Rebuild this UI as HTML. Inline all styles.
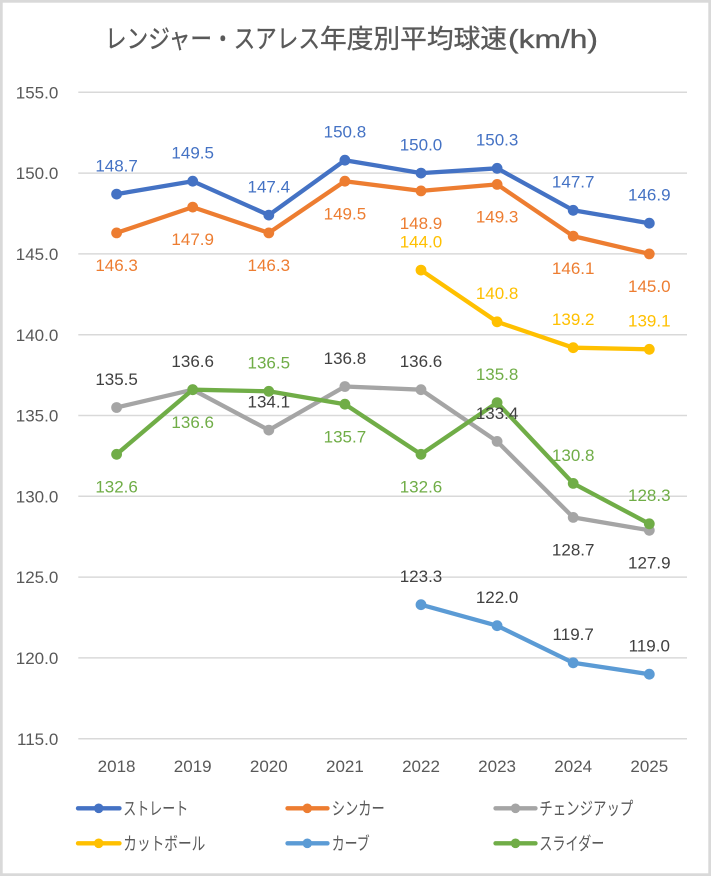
<!DOCTYPE html>
<html><head><meta charset="utf-8"><style>
html,body{margin:0;padding:0;background:#fff;}
svg{display:block;}
text{font-family:"Liberation Sans","Noto Sans CJK JP",sans-serif;}
</style></head><body>
<svg width="711" height="876" viewBox="0 0 711 876" xmlns="http://www.w3.org/2000/svg">
<rect x="0" y="0" width="711" height="876" fill="#fff"/>
<rect x="1.35" y="1.35" width="708.3" height="873.3" fill="none" stroke="#d9d9d9" stroke-width="2.7"/>

<!-- Title -->
<g fill="#595959" stroke="#595959" stroke-width="0.35" font-size="26">
<text x="105" y="48" textLength="215" lengthAdjust="spacingAndGlyphs">レンジャー・スアレス</text>
<text x="320" y="48" textLength="187" lengthAdjust="spacingAndGlyphs">年度別平均球速</text>
<text x="508" y="48" textLength="90" lengthAdjust="spacingAndGlyphs">(km/h)</text>
</g>

<!-- Gridlines -->
<g stroke="#d9d9d9" stroke-width="1.5">
<line x1="78.3" x2="687" y1="92.3" y2="92.3"/>
<line x1="78.3" x2="687" y1="173.1" y2="173.1"/>
<line x1="78.3" x2="687" y1="253.9" y2="253.9"/>
<line x1="78.3" x2="687" y1="334.7" y2="334.7"/>
<line x1="78.3" x2="687" y1="415.5" y2="415.5"/>
<line x1="78.3" x2="687" y1="496.3" y2="496.3"/>
<line x1="78.3" x2="687" y1="577.1" y2="577.1"/>
<line x1="78.3" x2="687" y1="657.9" y2="657.9"/>
<line x1="78.3" x2="687" y1="738.7" y2="738.7"/>
</g>

<!-- Y axis labels -->
<g fill="#595959" font-size="17" text-anchor="end">
<text x="58.3" y="98.4">155.0</text>
<text x="58.3" y="179.2">150.0</text>
<text x="58.3" y="260.0">145.0</text>
<text x="58.3" y="340.8">140.0</text>
<text x="58.3" y="421.6">135.0</text>
<text x="58.3" y="502.4">130.0</text>
<text x="58.3" y="583.2">125.0</text>
<text x="58.3" y="664.0">120.0</text>
<text x="58.3" y="744.8">115.0</text>
</g>

<!-- X axis labels -->
<g fill="#595959" font-size="17" text-anchor="middle">
<text x="116.6" y="772.1">2018</text>
<text x="192.7" y="772.1">2019</text>
<text x="268.8" y="772.1">2020</text>
<text x="344.9" y="772.1">2021</text>
<text x="421.0" y="772.1">2022</text>
<text x="497.1" y="772.1">2023</text>
<text x="573.2" y="772.1">2024</text>
<text x="649.3" y="772.1">2025</text>
</g>

<!-- Series: ストレート -->
<g stroke="#4472C4" fill="#4472C4">
<polyline fill="none" stroke-width="4.3" stroke-linejoin="round" points="116.6,194.1 192.7,181.2 268.8,215.1 344.9,160.2 421.0,173.1 497.1,168.3 573.2,210.3 649.3,223.2"/>
<g stroke="none">
<circle cx="116.6" cy="194.1" r="5.4"/><circle cx="192.7" cy="181.2" r="5.4"/><circle cx="268.8" cy="215.1" r="5.4"/><circle cx="344.9" cy="160.2" r="5.4"/><circle cx="421.0" cy="173.1" r="5.4"/><circle cx="497.1" cy="168.3" r="5.4"/><circle cx="573.2" cy="210.3" r="5.4"/><circle cx="649.3" cy="223.2" r="5.4"/>
</g></g>

<!-- Series: シンカー -->
<g stroke="#ED7D31" fill="#ED7D31">
<polyline fill="none" stroke-width="4.3" stroke-linejoin="round" points="116.6,232.9 192.7,207.1 268.8,232.9 344.9,181.2 421.0,190.9 497.1,184.4 573.2,236.1 649.3,253.9"/>
<g stroke="none">
<circle cx="116.6" cy="232.9" r="5.4"/><circle cx="192.7" cy="207.1" r="5.4"/><circle cx="268.8" cy="232.9" r="5.4"/><circle cx="344.9" cy="181.2" r="5.4"/><circle cx="421.0" cy="190.9" r="5.4"/><circle cx="497.1" cy="184.4" r="5.4"/><circle cx="573.2" cy="236.1" r="5.4"/><circle cx="649.3" cy="253.9" r="5.4"/>
</g></g>

<!-- Series: チェンジアップ -->
<g stroke="#A5A5A5" fill="#A5A5A5">
<polyline fill="none" stroke-width="4.3" stroke-linejoin="round" points="116.6,407.5 192.7,389.7 268.8,430.1 344.9,386.5 421.0,389.7 497.1,441.4 573.2,517.4 649.3,530.3"/>
<g stroke="none">
<circle cx="116.6" cy="407.5" r="5.4"/><circle cx="192.7" cy="389.7" r="5.4"/><circle cx="268.8" cy="430.1" r="5.4"/><circle cx="344.9" cy="386.5" r="5.4"/><circle cx="421.0" cy="389.7" r="5.4"/><circle cx="497.1" cy="441.4" r="5.4"/><circle cx="573.2" cy="517.4" r="5.4"/><circle cx="649.3" cy="530.3" r="5.4"/>
</g></g>

<!-- Series: カットボール -->
<g stroke="#FFC000" fill="#FFC000">
<polyline fill="none" stroke-width="4.3" stroke-linejoin="round" points="421.0,270.1 497.1,321.8 573.2,347.7 649.3,349.3"/>
<g stroke="none">
<circle cx="421.0" cy="270.1" r="5.4"/><circle cx="497.1" cy="321.8" r="5.4"/><circle cx="573.2" cy="347.7" r="5.4"/><circle cx="649.3" cy="349.3" r="5.4"/>
</g></g>

<!-- Series: カーブ -->
<g stroke="#5B9BD5" fill="#5B9BD5">
<polyline fill="none" stroke-width="4.3" stroke-linejoin="round" points="421.0,604.7 497.1,625.7 573.2,662.8 649.3,674.2"/>
<g stroke="none">
<circle cx="421.0" cy="604.7" r="5.4"/><circle cx="497.1" cy="625.7" r="5.4"/><circle cx="573.2" cy="662.8" r="5.4"/><circle cx="649.3" cy="674.2" r="5.4"/>
</g></g>

<!-- Series: スライダー -->
<g stroke="#70AD47" fill="#70AD47">
<polyline fill="none" stroke-width="4.3" stroke-linejoin="round" points="116.6,454.3 192.7,389.7 268.8,391.3 344.9,404.2 421.0,454.3 497.1,402.6 573.2,483.4 649.3,523.8"/>
<g stroke="none">
<circle cx="116.6" cy="454.3" r="5.4"/><circle cx="192.7" cy="389.7" r="5.4"/><circle cx="268.8" cy="391.3" r="5.4"/><circle cx="344.9" cy="404.2" r="5.4"/><circle cx="421.0" cy="454.3" r="5.4"/><circle cx="497.1" cy="402.6" r="5.4"/><circle cx="573.2" cy="483.4" r="5.4"/><circle cx="649.3" cy="523.8" r="5.4"/>
</g></g>

<!-- Data labels -->
<g font-size="17" text-anchor="middle">
<g fill="#4472C4">
<text x="116.6" y="171.5">148.7</text><text x="192.7" y="158.6">149.5</text><text x="268.8" y="192.5">147.4</text><text x="344.9" y="137.6">150.8</text><text x="421.0" y="150.5">150.0</text><text x="497.1" y="145.7">150.3</text><text x="573.2" y="187.7">147.7</text><text x="649.3" y="200.6">146.9</text>
</g>
<g fill="#ED7D31">
<text x="116.6" y="271.0">146.3</text><text x="192.7" y="245.2">147.9</text><text x="268.8" y="271.0">146.3</text><text x="344.9" y="219.3">149.5</text><text x="421.0" y="229.0">148.9</text><text x="497.1" y="222.5">149.3</text><text x="573.2" y="274.2">146.1</text><text x="649.3" y="292.0">145.0</text>
</g>
<g fill="#404040">
<text x="116.6" y="384.9">135.5</text><text x="192.7" y="367.1">136.6</text><text x="268.8" y="407.5">134.1</text><text x="344.9" y="363.9">136.8</text><text x="421.0" y="367.1">136.6</text><text x="497.1" y="418.8">133.4</text><text x="573.2" y="555.5">128.7</text><text x="649.3" y="568.4">127.9</text>
</g>
<g fill="#FFC000">
<text x="421.0" y="247.5">144.0</text><text x="497.1" y="299.2">140.8</text><text x="573.2" y="325.1">139.2</text><text x="649.3" y="326.7">139.1</text>
</g>
<g fill="#404040">
<text x="421.0" y="582.1">123.3</text><text x="497.1" y="603.1">122.0</text><text x="573.2" y="640.2">119.7</text><text x="649.3" y="651.6">119.0</text>
</g>
<g fill="#70AD47">
<text x="116.6" y="492.4">132.6</text><text x="192.7" y="427.8">136.6</text><text x="268.8" y="368.7">136.5</text><text x="344.9" y="442.3">135.7</text><text x="421.0" y="492.4">132.6</text><text x="497.1" y="380.0">135.8</text><text x="573.2" y="460.8">130.8</text><text x="649.3" y="501.2">128.3</text>
</g>
</g>

<!-- Legend -->
<g stroke-width="4.3" stroke-linecap="round">
<line x1="78" x2="119.5" y1="808.3" y2="808.3" stroke="#4472C4"/><circle cx="98.7" cy="808.3" r="4.8" fill="#4472C4"/>
<line x1="287.5" x2="327.5" y1="808.3" y2="808.3" stroke="#ED7D31"/><circle cx="307.3" cy="808.3" r="4.8" fill="#ED7D31"/>
<line x1="495.5" x2="535.5" y1="808.3" y2="808.3" stroke="#A5A5A5"/><circle cx="515.5" cy="808.3" r="4.8" fill="#A5A5A5"/>
<line x1="78" x2="119.5" y1="843.3" y2="843.3" stroke="#FFC000"/><circle cx="98.7" cy="843.3" r="4.8" fill="#FFC000"/>
<line x1="287.5" x2="327.5" y1="843.3" y2="843.3" stroke="#5B9BD5"/><circle cx="307.3" cy="843.3" r="4.8" fill="#5B9BD5"/>
<line x1="495.5" x2="535.5" y1="843.3" y2="843.3" stroke="#70AD47"/><circle cx="515.5" cy="843.3" r="4.8" fill="#70AD47"/>
</g>
<g fill="#595959" font-size="18">
<text x="123.3" y="815" textLength="65" lengthAdjust="spacingAndGlyphs">ストレート</text>
<text x="331.7" y="815" textLength="53" lengthAdjust="spacingAndGlyphs">シンカー</text>
<text x="539.3" y="815" textLength="94" lengthAdjust="spacingAndGlyphs">チェンジアップ</text>
<text x="123.3" y="850" textLength="82" lengthAdjust="spacingAndGlyphs">カットボール</text>
<text x="331.7" y="850" textLength="38" lengthAdjust="spacingAndGlyphs">カーブ</text>
<text x="539.3" y="850" textLength="65" lengthAdjust="spacingAndGlyphs">スライダー</text>
</g>
</svg>
</body></html>
